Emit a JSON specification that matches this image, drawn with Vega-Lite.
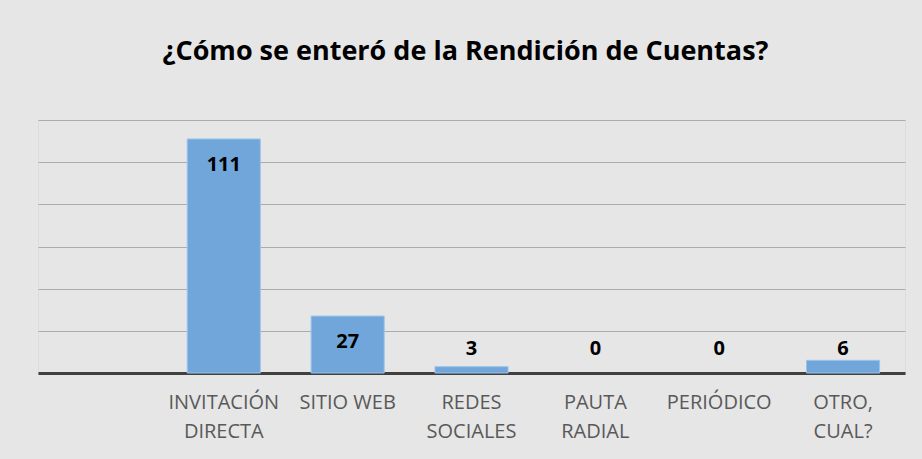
{
  "$schema": "https://vega.github.io/schema/vega-lite/v6.json",
  "autosize": "none",
  "width": 867,
  "height": 253,
  "padding": {"left": 38, "top": 120, "right": 17, "bottom": 86},
  "background": "#e6e6e6",
  "title": {
    "text": "¿Cómo se enteró de la Rendición de Cuentas?",
    "font": "Open Sans",
    "fontSize": 27,
    "fontWeight": "bold",
    "color": "#000000",
    "anchor": "middle",
    "dx": -6,
    "offset": 54
  },
  "data": {
    "values": [
      {"categoria": "INVITACIÓN DIRECTA", "cantidad": 111},
      {"categoria": "SITIO WEB", "cantidad": 27},
      {"categoria": "REDES SOCIALES", "cantidad": 3},
      {"categoria": "PAUTA RADIAL", "cantidad": 0},
      {"categoria": "PERIÓDICO", "cantidad": 0},
      {"categoria": "OTRO, CUAL?", "cantidad": 6}
    ]
  },
  "encoding": {
    "x": {
      "field": "categoria",
      "type": "nominal",
      "sort": null,
      "scale": {
        "domain": [" ", "INVITACIÓN DIRECTA", "SITIO WEB", "REDES SOCIALES", "PAUTA RADIAL", "PERIÓDICO", "OTRO, CUAL?"],
        "paddingInner": 0.41,
        "paddingOuter": 0.205
      },
      "axis": {
        "title": null,
        "labelAngle": 0,
        "labelExpr": "datum.label == 'SITIO WEB' || datum.label == 'PERIÓDICO' ? datum.label : split(datum.label, ' ')",
        "labelFont": "Open Sans",
        "labelFontSize": 20,
        "labelColor": "#595959",
        "labelLineHeight": 29,
        "labelPadding": 19,
        "labelLimit": 200,
        "ticks": false,
        "domainColor": "#404040",
        "domainWidth": 3,
        "grid": false
      }
    }
  },
  "layer": [
    {
      "transform": [{"filter": "datum.cantidad > 0"}],
      "mark": {"type": "bar", "color": "#70a6da", "stroke": "#9cc3e8", "strokeWidth": 1},
      "encoding": {
        "y": {
          "field": "cantidad",
          "type": "quantitative",
          "scale": {"domain": [0, 120], "nice": false},
          "axis": {
            "title": null,
            "labels": false,
            "ticks": false,
            "domain": false,
            "values": [0, 20, 40, 60, 80, 100, 120],
            "grid": true,
            "gridColor": "#ababab",
            "gridWidth": 1.2
          }
        }
      }
    },
    {
      "transform": [{"filter": "datum.cantidad >= 20"}],
      "mark": {"type": "text", "font": "Open Sans", "fontSize": 20, "fontWeight": "bold", "color": "#000000", "baseline": "top", "dy": 16},
      "encoding": {
        "y": {"field": "cantidad", "type": "quantitative"},
        "text": {"field": "cantidad", "type": "quantitative"}
      }
    },
    {
      "transform": [{"filter": "datum.cantidad < 20"}],
      "mark": {"type": "text", "font": "Open Sans", "fontSize": 20, "fontWeight": "bold", "color": "#000000", "baseline": "middle", "dy": -24},
      "encoding": {
        "y": {"datum": 0, "type": "quantitative"},
        "text": {"field": "cantidad", "type": "quantitative"}
      }
    }
  ]
}
